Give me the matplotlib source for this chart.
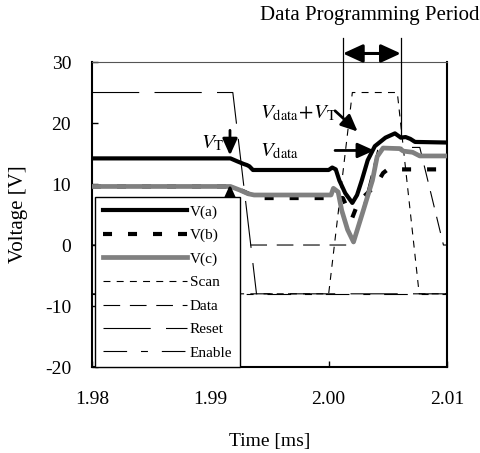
"""
Pixel circuit simulation: node voltages and control signals around the data programming period
"""

import matplotlib.pyplot as plt
import matplotlib

matplotlib.rcParams['font.family'] = ['Liberation Serif', 'DejaVu Serif']
matplotlib.rcParams['mathtext.fontset'] = 'stix'
matplotlib.rcParams['lines.scale_dashes'] = False
matplotlib.rcParams['axes.unicode_minus'] = False

# node voltages (time in ms, voltage in V)
t_a = [1.98, 1.9917, 1.9923, 1.9928, 1.9931, 1.9933, 1.9936, 2.0000, 2.0003, 2.0006,
       2.0009, 2.0014, 2.0020, 2.0024, 2.0028, 2.0033, 2.0039, 2.0048, 2.0056, 2.0061,
       2.0065, 2.0069, 2.0073, 2.01]
v_a = [14.2, 14.2, 13.7, 13.3, 13.1, 12.9, 12.3, 12.3, 12.7, 12.4,
       10.6, 8.5, 6.9, 8.2, 10.6, 13.9, 16.2, 17.6, 18.3, 17.6,
       17.7, 17.4, 16.9, 16.8]

t_b = [1.98, 1.9917, 1.9928, 1.9940, 2.0012, 2.0017, 2.0020, 2.0023, 2.0030, 2.0040,
       2.0046, 2.0050, 2.01]
v_b = [9.6, 9.6, 8.8, 7.7, 7.7, 5.5, 4.5, 6.0, 8.0, 9.8,
       11.8, 12.4, 12.4]

t_c = [1.98, 1.9917, 1.9925, 1.9932, 1.9937, 2.0002, 2.0004, 2.0008, 2.0011, 2.0016,
       2.0021, 2.0029, 2.0037, 2.0041, 2.0046, 2.0060, 2.0063, 2.0071, 2.0077, 2.01]
v_c = [9.6, 9.6, 9.0, 8.4, 8.2, 8.2, 9.3, 8.7, 5.7, 2.5,
       0.5, 5.5, 10.6, 14.5, 15.9, 15.8, 15.4, 15.2, 14.6, 14.6]

# control signals
t_scan = [1.98, 2.0000, 2.0020, 2.0058, 2.00765, 2.01]
v_scan = [-8, -8, 25, 25, -8, -8]

t_data = [1.98, 2.0021, 2.0042, 2.0077, 2.0097, 2.01]
v_data = [0, 0, 16, 16, 0, 0]

t_reset = [1.98, 1.9919, 1.9939, 2.01]
v_reset = [25, 25, -8, -8]

t_enable = [1.98, 2.01]
v_enable = [-8, -8]

# programming period bounds (ms)
period = [2.0012, 2.0061]

fig = plt.figure(figsize=(4.81, 4.53), dpi=100)
ax = fig.add_axes([0.1913, 0.1898, 0.738, 0.6733])

# thin signal lines
ax.plot(t_scan, v_scan, color='black', lw=0.8, dashes=(5, 4.5), label='Scan', zorder=2)
ax.plot(t_data, v_data, color='black', lw=0.8, dashes=(12, 7), label='Data', zorder=2)
ax.plot(t_reset, v_reset, color='black', lw=0.8, dashes=(34, 11), label='Reset', zorder=2)
ax.plot(t_enable, v_enable, color='black', lw=0.8, dashes=(17, 10, 5, 10), label='Enable', zorder=2)

# node voltages
ax.plot(t_b, v_b, color='black', lw=3.0, dashes=(6.5, 11.5), label='V(b)', zorder=3)
ax.plot(t_c, v_c, color='#808080', lw=3.4, label='V(c)', zorder=4)
ax.plot(t_a, v_a, color='black', lw=3.0, label='V(a)', zorder=5)

ax.set_xlim(1.98, 2.01)
ax.set_ylim(-20, 30)
ax.set_xticks([1.98, 1.99, 2.00, 2.01])
ax.set_xticklabels(['1.98', '1.99', '2.00', '2.01'])
ax.set_yticks([-20, -10, 0, 10, 20, 30])
ax.tick_params(direction='in', length=4, width=1, labelsize=14,
               top=False, right=False)
ax.tick_params(axis='x', pad=17)
ax.tick_params(axis='y', pad=15)
ax.set_xlabel('Time [ms]', fontsize=14, labelpad=18)
ax.set_ylabel('Voltage [V]', fontsize=15, labelpad=12)

for side in ['left', 'bottom', 'right']:
    ax.spines[side].set_linewidth(1.5)
ax.spines['top'].set_linewidth(0.8)
ax.spines['top'].set_color('#555555')

# legend
handles, labels = ax.get_legend_handles_labels()
order = ['V(a)', 'V(b)', 'V(c)', 'Scan', 'Data', 'Reset', 'Enable']
hmap = dict(zip(labels, handles))
leg = ax.legend([hmap[k] for k in order], order, loc='upper left',
                bbox_to_anchor=(0.0085, 0.557), borderaxespad=0, fontsize=11,
                handlelength=5.5, handletextpad=0.2, labelspacing=0.64,
                borderpad=0.5, fancybox=False, framealpha=1, edgecolor='black')
leg.get_frame().set_linewidth(1.0)
leg.set_zorder(10)

# V_T annotations
ax.text(1.98925, 16.7, r'$V_{\mathrm{T}}$', fontsize=15, ha='left', va='center')
arrow_kw = dict(arrowstyle='-|>,head_length=1.0,head_width=0.45', color='black', lw=2,
                shrinkA=0, shrinkB=0)
ax.annotate('', xy=(1.99166, 14.7), xytext=(1.99166, 18.8), arrowprops=arrow_kw, zorder=6)
ax.annotate('', xy=(1.99166, 9.9), xytext=(1.99166, 6.0), arrowprops=arrow_kw, zorder=6)

# V_data + V_T / V_data annotations
ax.text(1.9942, 21.5, r'$V_{\mathrm{data}}\!+\!V_{\mathrm{T}}$', fontsize=15,
        ha='left', va='center')
ax.annotate('', xy=(2.00245, 18.6), xytext=(2.00054, 22.0), arrowprops=arrow_kw, zorder=6)
ax.text(1.9942, 15.3, r'$V_{\mathrm{data}}$', fontsize=15, ha='left', va='center')
ax.annotate('', xy=(2.00385, 15.5), xytext=(2.00054, 15.5), arrowprops=arrow_kw, zorder=6)

# data programming period marker
ax.plot([period[0], period[0]], [19.6, 34.0], color='black', lw=0.9, clip_on=False, zorder=6)
ax.plot([period[1], period[1]], [18.0, 34.0], color='black', lw=0.9, clip_on=False, zorder=6)
ax.annotate('', xy=(period[0], 31.4), xytext=(period[1], 31.4), annotation_clip=False,
            arrowprops=dict(arrowstyle='<|-|>,head_length=1.2,head_width=0.55',
                            color='black', lw=2.2, shrinkA=0, shrinkB=0))
ax.text((period[0] + period[1]) / 2 - 0.0002, 37.7, 'Data Programming Period',
        fontsize=15, ha='center', va='center')

plt.savefig('out.png', dpi=100, facecolor='white')
plt.close()
